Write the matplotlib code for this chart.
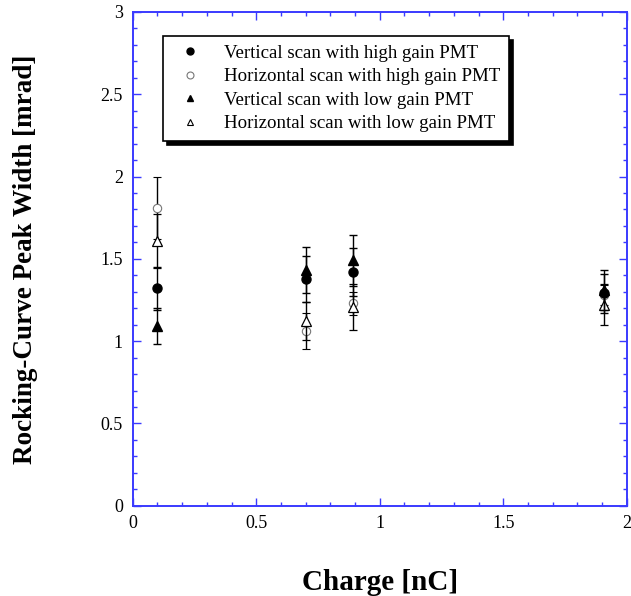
import numpy as np
import matplotlib.pyplot as plt
from matplotlib.lines import Line2D
from matplotlib.ticker import MultipleLocator, FormatStrFormatter

plt.rcParams['font.family'] = ['Liberation Serif', 'DejaVu Serif']

# charge [nC]
charge = [0.1, 0.7, 0.89, 1.91]

# peak widths [mrad] and errors
v_high = [1.32, 1.38, 1.42, 1.29]
v_high_err = [0.13, 0.14, 0.145, 0.12]
h_high = [1.81, 1.06, 1.23, 1.28]
h_high_err = [0.19, 0.11, 0.07, 0.06]
v_low = [1.09, 1.43, 1.49, 1.31]
v_low_err = [0.11, 0.14, 0.155, 0.12]
h_low = [1.61, 1.12, 1.21, 1.22]
h_low_err = [0.165, 0.115, 0.14, 0.125]

labels = ['Vertical scan with high gain PMT',
          'Horizontal scan with high gain PMT',
          'Vertical scan with low gain PMT',
          'Horizontal scan with low gain PMT']

xticks = [0, 0.5, 1, 1.5, 2]
yticks = [0, 0.5, 1, 1.5, 2, 2.5, 3]

blue = '#3a3aff'

fig = plt.figure(figsize=(6.31, 5.96), dpi=100)
ax = fig.add_axes([0.2103, 0.1515, 0.7829, 0.8284])

ebkw = dict(ecolor='black', elinewidth=1, capsize=3, capthick=1, linestyle='none')
ax.errorbar(charge, h_high, yerr=h_high_err, marker='o', ms=6, mfc='white',
            mec='#777777', mew=0.8, zorder=3, **ebkw)
ax.errorbar(charge, h_low, yerr=h_low_err, marker='^', ms=7, mfc='white',
            mec='black', mew=0.9, zorder=4, **ebkw)
ax.errorbar(charge, v_high, yerr=v_high_err, marker='o', ms=6.5, mfc='black',
            mec='black', zorder=5, **ebkw)
ax.errorbar(charge, v_low, yerr=v_low_err, marker='^', ms=7, mfc='black',
            mec='black', zorder=5, **ebkw)

ax.set_xlim(0, 2)
ax.set_ylim(0, 3)
ax.set_xticks(xticks)
ax.set_yticks(yticks)
ax.xaxis.set_minor_locator(MultipleLocator(0.1))
ax.yaxis.set_minor_locator(MultipleLocator(0.1))
ax.xaxis.set_major_formatter(FormatStrFormatter('%g'))
ax.yaxis.set_major_formatter(FormatStrFormatter('%g'))

ax.tick_params(which='both', direction='in', top=True, right=True,
               color=blue, labelsize=13, pad=7)
ax.tick_params(which='major', length=6, width=1)
ax.tick_params(which='minor', length=3, width=1)
for s in ax.spines.values():
    s.set_color(blue)
    s.set_linewidth(1.4)

ax.set_xlabel('Charge [nC]', fontsize=21, fontweight='bold', labelpad=26)
ax.set_ylabel('Rocking-Curve Peak Width [mrad]', fontsize=19.5,
              fontweight='bold', labelpad=45)

# legend handles: markers only
handles = [
    Line2D([], [], ls='none', marker='o', ms=5, mfc='black', mec='black'),
    Line2D([], [], ls='none', marker='o', ms=5, mfc='white', mec='#777777', mew=0.8),
    Line2D([], [], ls='none', marker='^', ms=5, mfc='black', mec='black'),
    Line2D([], [], ls='none', marker='^', ms=5, mfc='white', mec='black', mew=0.8),
]
leg = ax.legend(handles, labels, loc='upper left',
                bbox_to_anchor=(0.061, 0.951), borderaxespad=0, fontsize=13.6,
                frameon=True, fancybox=False, framealpha=1,
                edgecolor='black', handlelength=2.0, handletextpad=0.8,
                labelspacing=0.33, borderpad=0.45,
                shadow={'color': 'black', 'alpha': 1, 'ox': 3, 'oy': -3})
leg.get_frame().set_linewidth(1.2)

fig.savefig('out.png', dpi=100)
